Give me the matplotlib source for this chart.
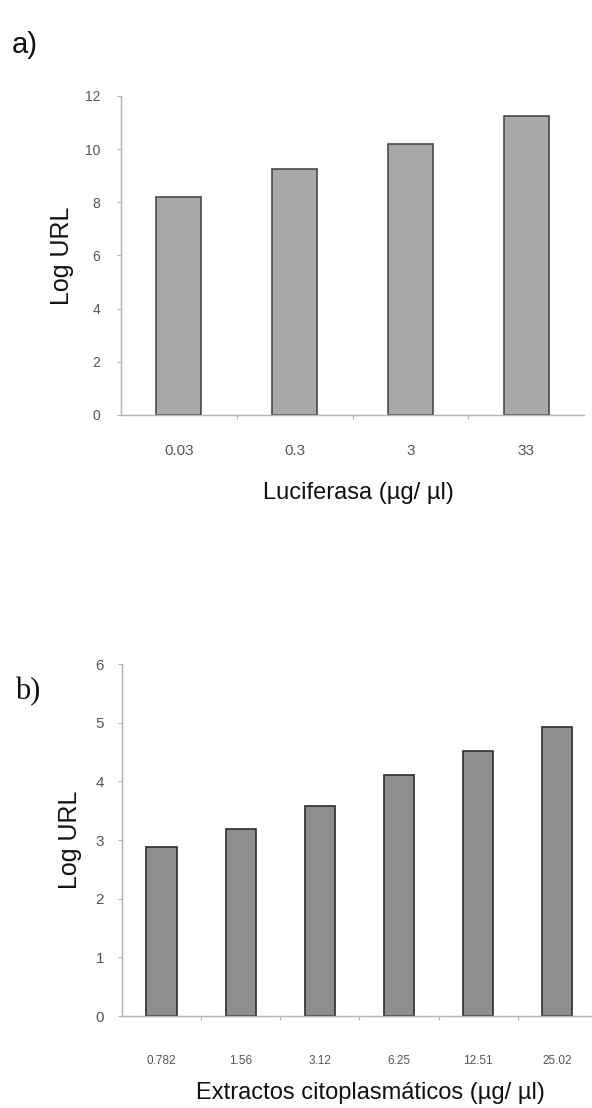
import matplotlib
matplotlib.use("Agg")
import matplotlib.pyplot as plt
from matplotlib.ticker import FixedLocator

plt.rcParams['font.family'] = ['Liberation Sans', 'DejaVu Sans']

# Panel a
luc_labels = ["0.03", "0.3", "3", "33"]
luc_values = [8.2, 9.25, 10.2, 11.25]

# Panel b
ext_labels = ["0.782", "1.56", "3.12", "6.25", "12.51", "25.02"]
ext_values = [2.88, 3.19, 3.58, 4.1, 4.51, 4.92]

fig = plt.figure(figsize=(5.92, 11.08), dpi=100)

axis_col = "#b5b5b5"
tick_col = "#555555"

def style(ax, n):
    for s in ["top", "right"]:
        ax.spines[s].set_visible(False)
    for s in ["left", "bottom"]:
        ax.spines[s].set_color(axis_col)
        ax.spines[s].set_linewidth(1.0)
        ax.spines[s].set_linestyle((0, (1, 0.6)))
    ax.tick_params(axis="y", colors=axis_col, length=3, width=0.8, labelcolor=tick_col)
    ax.tick_params(axis="x", which="major", length=0, labelcolor=tick_col)
    ax.xaxis.set_minor_locator(FixedLocator([i + 0.5 for i in range(n - 1)]))
    ax.tick_params(axis="x", which="minor", length=3, width=0.8, color=axis_col)

# ---- a ----
ax1 = fig.add_axes([0.2044, 0.6255, 0.7821, 0.2879])
x1 = range(len(luc_values))
ax1.bar(x1, luc_values, width=0.39, color="#a9a9a9", edgecolor="#4a4a4a", linewidth=1.2)
ax1.set_xlim(-0.5, len(luc_values) - 0.5)
ax1.set_ylim(0, 12)
ax1.set_yticks(range(0, 13, 2))
ax1.set_xticks(list(x1))
ax1.set_xticklabels(luc_labels, fontsize=11)
ax1.tick_params(axis="x", which="major", pad=21)
ax1.tick_params(axis="y", labelsize=10, pad=12)
style(ax1, len(luc_values))
ax1.set_ylabel("Log URL", fontsize=18, labelpad=8, color="#111111")
fig.text(0.606, 1 - 493 / 1108, "Luciferasa (µg/ µl)", fontsize=17, ha="center", va="center", color="#111111")
fig.text(0.02, 1 - 45 / 1108, "a)", fontsize=21, ha="left", va="center", color="#111111")

# ---- b ----
ax2 = fig.add_axes([0.206, 0.0830, 0.8024, 0.3177])
x2 = range(len(ext_values))
ax2.bar(x2, ext_values, width=0.38, color="#8e8e8e", edgecolor="#2e2e2e", linewidth=1.2)
ax2.set_xlim(-0.5, len(ext_values) - 0.5)
ax2.set_ylim(0, 6)
ax2.set_yticks(range(0, 7))
ax2.set_xticks(list(x2))
ax2.set_xticklabels(ext_labels, fontsize=8.5)
ax2.tick_params(axis="x", which="major", pad=28)
ax2.tick_params(axis="y", labelsize=11, pad=10)
style(ax2, len(ext_values))
ax2.set_ylabel("Log URL", fontsize=18, labelpad=10, color="#111111")
fig.text(0.625, 1 - 1093 / 1108, "Extractos citoplasmáticos (µg/ µl)", fontsize=17, ha="center", va="center", color="#111111")
fig.text(0.025, 1 - 692 / 1108, "b)", fontsize=22, ha="left", va="center", color="#111111", family="Liberation Serif")

fig.savefig("out.png", dpi=100)
